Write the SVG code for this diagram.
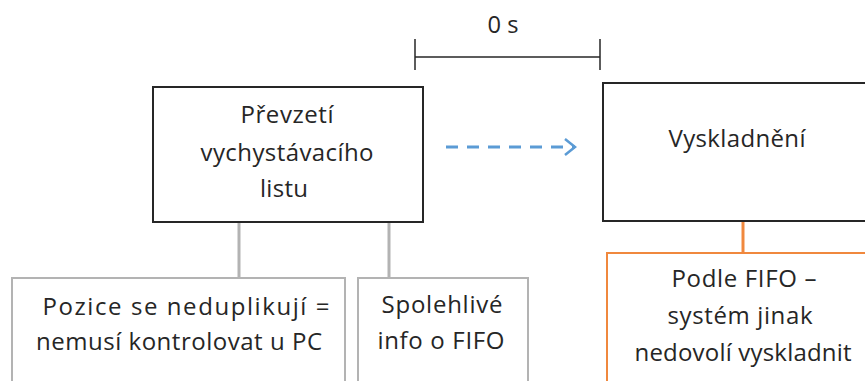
<svg xmlns="http://www.w3.org/2000/svg" width="865" height="381" viewBox="0 0 865 381">
<defs>
<style>
.t{font-family:"Open Sans","Liberation Sans",sans-serif;font-size:24px;fill:#262626;text-anchor:middle}
.main{fill:#fff;stroke:#262626;stroke-width:2}
.sub{fill:#fff;stroke:#b3b3b3;stroke-width:2}
.subo{fill:#fff;stroke:#f0883e;stroke-width:2}
</style>
<marker id="ah" markerWidth="14" markerHeight="20" refX="12" refY="10" orient="auto" markerUnits="userSpaceOnUse">
<path d="M2,2 L12,10 L2,18" fill="none" stroke="#5b9bd5" stroke-width="2.5"/>
</marker>
</defs>
<rect width="865" height="381" fill="#fff"/>
<g id="timeline">
<line x1="415" y1="39" x2="415" y2="70" stroke="#262626" stroke-width="1.5"/>
<line x1="600" y1="39" x2="600" y2="70" stroke="#262626" stroke-width="1.5"/>
<line x1="415" y1="57" x2="600" y2="57" stroke="#262626" stroke-width="1.5"/>
<text class="t" x="503" y="33" textLength="31" lengthAdjust="spacingAndGlyphs">0 s</text>
</g>
<g id="connectors">
<line x1="239" y1="222" x2="239" y2="278" stroke="#b3b3b3" stroke-width="3"/>
<line x1="389" y1="222" x2="389" y2="278" stroke="#b3b3b3" stroke-width="3"/>
<line x1="743" y1="221" x2="743" y2="253" stroke="#f0883e" stroke-width="3"/>
<line x1="446" y1="147" x2="575" y2="147" stroke="#5b9bd5" stroke-width="3" stroke-dasharray="12,9" marker-end="url(#ah)"/>
</g>
<g id="prevzeti">
<rect class="main" x="153" y="87" width="270" height="135"/>
<text class="t" x="287" y="123" textLength="93">Převzetí</text>
<text class="t" x="287" y="161" textLength="173">vychystávacího</text>
<text class="t" x="284" y="197" textLength="48">listu</text>
</g>
<g id="vyskladneni">
<rect class="main" x="603" y="83" width="275" height="138"/>
<text class="t" x="737" y="147" textLength="137">Vyskladnění</text>
</g>
<g id="pozice">
<rect class="sub" x="12" y="278" width="333" height="120"/>
<text class="t" x="186" y="315" textLength="287">Pozice se neduplikují =</text>
<text class="t" x="179" y="350" textLength="286">nemusí kontrolovat u PC</text>
</g>
<g id="spolehlive">
<rect class="sub" x="358" y="278" width="170" height="120"/>
<text class="t" x="442" y="313" textLength="121">Spolehlivé</text>
<text class="t" x="441" y="349" textLength="127">info o FIFO</text>
</g>
<g id="podle">
<rect class="subo" x="607" y="253" width="270" height="140"/>
<text class="t" x="744" y="287" textLength="145">Podle FIFO –</text>
<text class="t" x="740" y="324" textLength="145">systém jinak</text>
<text class="t" x="743" y="361" textLength="217">nedovolí vyskladnit</text>
</g>
</svg>
